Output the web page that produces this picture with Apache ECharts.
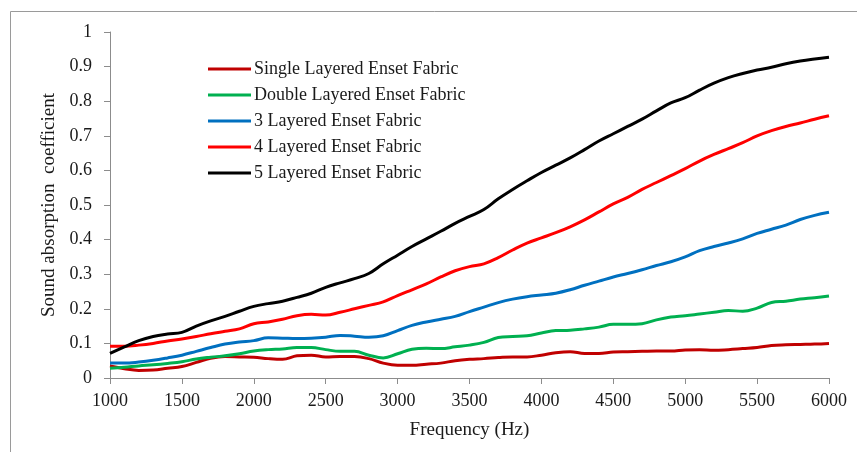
<!DOCTYPE html>
<html>
<head>
<meta charset="utf-8">
<script src="https://cdn.jsdelivr.net/npm/echarts@6/dist/echarts.min.js"></script>
<style>
  html, body { margin: 0; padding: 0; background: #fff; }
  #chart { width: 857px; height: 452px; }
</style>
</head>
<body>
<div id="chart"></div>
<script>
// Frequency steps (Hz)
const frequencies = [
  1000, 1100, 1200, 1300, 1400, 1500, 1600, 1700, 1800, 1900,
  2000, 2100, 2200, 2300, 2400, 2500, 2600, 2700, 2800, 2900,
  3000, 3100, 3200, 3300, 3400, 3500, 3600, 3700, 3800, 3900,
  4000, 4100, 4200, 4300, 4400, 4500, 4600, 4700, 4800, 4900,
  5000, 5100, 5200, 5300, 5400, 5500, 5600, 5700, 5800, 5900,
  6000
];

const seriesNames = [
  'Single Layered Enset Fabric',
  'Double Layered Enset Fabric',
  '3 Layered Enset Fabric',
  '4 Layered Enset Fabric',
  '5 Layered Enset Fabric'
];

// Sound absorption coefficients per fabric
const singleLayer = [
  0.035, 0.027, 0.022, 0.023, 0.028, 0.033, 0.045, 0.057, 0.062, 0.061,
  0.060, 0.056, 0.054, 0.064, 0.066, 0.061, 0.062, 0.062, 0.056, 0.043,
  0.037, 0.037, 0.040, 0.043, 0.050, 0.054, 0.056, 0.059, 0.061, 0.061,
  0.066, 0.073, 0.076, 0.071, 0.071, 0.075, 0.076, 0.077, 0.078, 0.078,
  0.081, 0.082, 0.080, 0.082, 0.085, 0.088, 0.094, 0.096, 0.097, 0.098,
  0.100
];
const doubleLayer = [
  0.028, 0.031, 0.035, 0.038, 0.042, 0.047, 0.055, 0.060, 0.064, 0.070,
  0.078, 0.082, 0.084, 0.088, 0.088, 0.082, 0.077, 0.077, 0.066, 0.058,
  0.070, 0.083, 0.086, 0.085, 0.090, 0.095, 0.103, 0.117, 0.120, 0.122,
  0.130, 0.137, 0.138, 0.142, 0.147, 0.155, 0.155, 0.157, 0.168, 0.176,
  0.180, 0.185, 0.190, 0.195, 0.193, 0.202, 0.218, 0.222, 0.228, 0.232,
  0.237
];
const threeLayer = [
  0.043, 0.043, 0.046, 0.051, 0.058, 0.066, 0.077, 0.088, 0.098, 0.104,
  0.108, 0.116, 0.115, 0.114, 0.115, 0.118, 0.123, 0.121, 0.118, 0.122,
  0.137, 0.152, 0.162, 0.170, 0.178, 0.192, 0.205, 0.218, 0.228, 0.235,
  0.240, 0.245, 0.255, 0.268, 0.280, 0.292, 0.302, 0.313, 0.325, 0.336,
  0.350, 0.368, 0.380, 0.390, 0.402, 0.418, 0.430, 0.442, 0.458, 0.470,
  0.479
];
const fourLayer = [
  0.092, 0.092, 0.095, 0.100, 0.107, 0.113, 0.120, 0.128, 0.135, 0.142,
  0.157, 0.162, 0.170, 0.180, 0.184, 0.182, 0.190, 0.200, 0.210, 0.220,
  0.238, 0.255, 0.272, 0.292, 0.310, 0.322, 0.330, 0.348, 0.370, 0.390,
  0.405, 0.420, 0.437, 0.457, 0.480, 0.503, 0.522, 0.545, 0.565, 0.585,
  0.605, 0.627, 0.646, 0.663, 0.680, 0.700, 0.715, 0.727, 0.737, 0.748,
  0.758
];
const fiveLayer = [
  0.071, 0.090, 0.108, 0.120, 0.127, 0.132, 0.150, 0.165, 0.178, 0.193,
  0.207, 0.215, 0.222, 0.233, 0.245, 0.262, 0.275, 0.287, 0.302, 0.330,
  0.355, 0.380, 0.402, 0.424, 0.447, 0.467, 0.487, 0.518, 0.545, 0.570,
  0.594, 0.615, 0.636, 0.660, 0.685, 0.706, 0.727, 0.748, 0.772, 0.795,
  0.810, 0.832, 0.852, 0.868, 0.880, 0.890, 0.898, 0.908, 0.916, 0.922,
  0.927
];

const xTickLabels = ['1000', '1500', '2000', '2500', '3000', '3500', '4000', '4500', '5000', '5500', '6000'];
const yTickLabels = ['0', '0.1', '0.2', '0.3', '0.4', '0.5', '0.6', '0.7', '0.8', '0.9', '1'];

const lineColors = ['#C00000', '#00B050', '#0070C0', '#FF0000', '#000000'];
const allValues = [singleLayer, doubleLayer, threeLayer, fourLayer, fiveLayer];

const serif = '"Liberation Serif", "Times New Roman", serif';
const axisGray = '#8c8c8c';
const textColor = '#1a1a1a';

const chart = echarts.init(document.getElementById('chart'), null, { renderer: 'canvas' });

chart.setOption({
  animation: false,
  backgroundColor: '#ffffff',
  textStyle: { fontFamily: serif },
  graphic: [{
    type: 'rect',
    shape: { x: 10.5, y: 11.5, width: 1000, height: 600 },
    style: { fill: 'none', stroke: '#9a9a9a', lineWidth: 1 },
    silent: true,
    z: -10
  }],
  grid: { left: 110, right: 28, top: 32, bottom: 74, containLabel: false },
  legend: {
    orient: 'vertical',
    left: 203,
    top: 55,
    itemWidth: 43,
    itemHeight: 16,
    itemGap: 8,
    icon: 'path://M0,6.5 L43,6.5 L43,9.5 L0,9.5 Z',
    textStyle: { fontFamily: serif, fontSize: 18, lineHeight: 16, color: textColor, padding: [0, 0, 0, -2] },
    data: seriesNames
  },
  xAxis: {
    type: 'value',
    min: 1000,
    max: 6000,
    interval: 500,
    name: 'Frequency (Hz)',
    nameLocation: 'middle',
    nameGap: 43,
    nameTextStyle: { fontFamily: serif, fontSize: 19, color: textColor },
    axisLine: { show: true, lineStyle: { color: axisGray, width: 1 } },
    axisTick: { show: true, inside: false, length: 6, lineStyle: { color: axisGray } },
    axisLabel: {
      fontFamily: serif, fontSize: 18, color: textColor, margin: 14,
      formatter: function (v) {
        const i = Math.round((v - 1000) / 500);
        return xTickLabels[i] !== undefined ? xTickLabels[i] : '';
      }
    },
    splitLine: { show: false }
  },
  yAxis: {
    type: 'value',
    min: 0,
    max: 1,
    interval: 0.1,
    name: 'Sound absorption  coefficient',
    nameLocation: 'middle',
    nameGap: 51,
    nameRotate: 90,
    nameTextStyle: { fontFamily: serif, fontSize: 19, color: textColor },
    axisLine: { show: true, lineStyle: { color: axisGray, width: 1 } },
    axisTick: { show: true, inside: false, length: 6, lineStyle: { color: axisGray } },
    axisLabel: {
      fontFamily: serif, fontSize: 18, color: textColor, margin: 18,
      formatter: function (v) {
        const i = Math.round(v * 10);
        return yTickLabels[i] !== undefined ? yTickLabels[i] : '';
      }
    },
    splitLine: { show: false }
  },
  series: seriesNames.map(function (name, k) {
    return {
      name: name,
      type: 'line',
      smooth: 0.4,
      symbol: 'none',
      color: lineColors[k],
      lineStyle: { width: 3, color: lineColors[k] },
      data: frequencies.map(function (f, i) { return [f, allValues[k][i]]; }),
      z: 2 + k
    };
  })
});
</script>
</body>
</html>
